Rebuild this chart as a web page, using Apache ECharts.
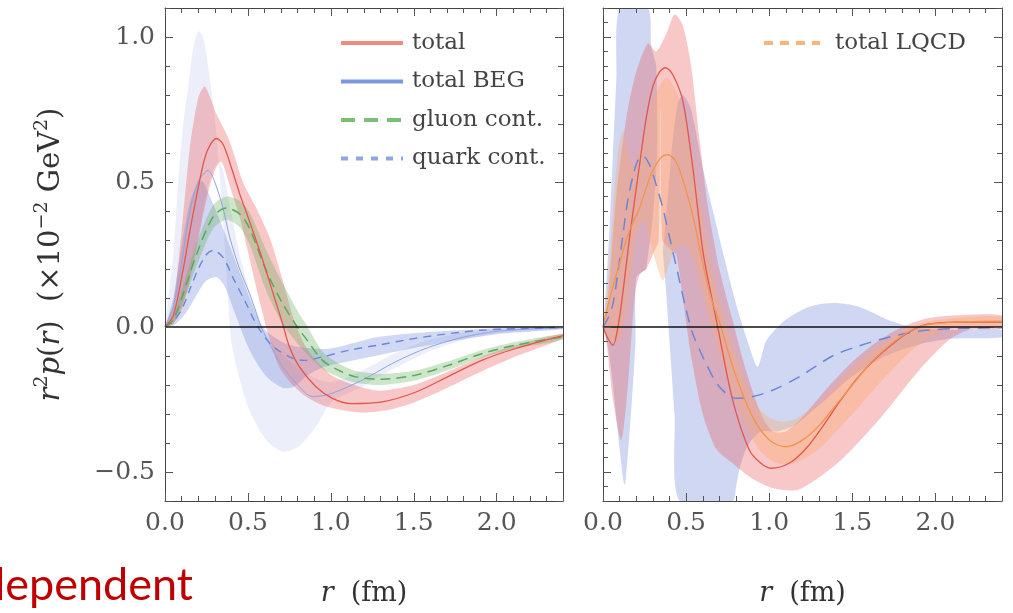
<!DOCTYPE html>
<html><head><meta charset="utf-8">
<script src="https://cdn.jsdelivr.net/npm/echarts@6/dist/echarts.min.js"></script>
<style>html,body{margin:0;padding:0;background:#fff}#c{width:1013px;height:613px}</style>
</head><body><div id="c"></div>
<script>
// ---------------- data (r in fm, value in 1e-2 GeV^2) ----------------
const xTicks = [0, 0.5, 1.0, 1.5, 2.0];
const yTicks = [-0.5, 0, 0.5, 1.0];

// left panel
const totalL = [[0,0],[0.05,0.04],[0.1,0.17],[0.15,0.33],[0.2,0.48],[0.25,0.6],[0.31,0.65],[0.35,0.63],[0.4,0.55],[0.45,0.46],[0.5,0.38],[0.57,0.264],[0.65,0.12],[0.715,0.0],[0.75,-0.068],[0.81,-0.137],[0.91,-0.206],[1.01,-0.246],[1.12,-0.264],[1.31,-0.258],[1.51,-0.225],[1.71,-0.17],[1.91,-0.115],[2.11,-0.075],[2.4,-0.03]];
const totalUpL = [[0,0],[0.05,0.08],[0.1,0.33],[0.15,0.62],[0.2,0.79],[0.24,0.83],[0.31,0.735],[0.39,0.64],[0.47,0.5],[0.55,0.41],[0.63,0.31],[0.7,0.18],[0.78,0.02],[0.85,-0.07],[0.91,-0.115],[1.0,-0.165],[1.09,-0.19],[1.2,-0.21],[1.3,-0.22],[1.5,-0.2],[1.7,-0.155],[1.9,-0.105],[2.1,-0.065],[2.4,-0.022]];
const totalLoL = [[0,0],[0.05,0.01],[0.1,0.06],[0.15,0.16],[0.2,0.3],[0.25,0.44],[0.3,0.54],[0.34,0.57],[0.4,0.47],[0.45,0.38],[0.5,0.26],[0.57,0.09],[0.63,-0.04],[0.69,-0.14],[0.77,-0.2],[0.85,-0.24],[0.95,-0.27],[1.07,-0.287],[1.2,-0.295],[1.35,-0.285],[1.5,-0.26],[1.7,-0.21],[1.9,-0.155],[2.1,-0.105],[2.4,-0.04]];

const begL = [[0,0],[0.05,0.07],[0.1,0.22],[0.15,0.4],[0.2,0.5],[0.26,0.54],[0.3,0.5],[0.35,0.41],[0.39,0.31],[0.45,0.2],[0.51,0.115],[0.55,0.05],[0.58,0.0],[0.65,-0.08],[0.7,-0.13],[0.8,-0.2],[0.89,-0.24],[1.0,-0.23],[1.19,-0.183],[1.39,-0.12],[1.59,-0.07],[1.8,-0.035],[2.0,-0.015],[2.2,-0.007],[2.4,-0.003]];
const begAL = [[0,0],[0.05,0.25],[0.08,0.5],[0.11,0.7],[0.14,0.83],[0.17,0.96],[0.2,1.02],[0.23,1.0],[0.26,0.9],[0.3,0.72],[0.34,0.45],[0.37,0.2],[0.4,-0.05],[0.45,-0.18],[0.51,-0.29],[0.61,-0.39],[0.71,-0.43],[0.81,-0.41],[0.91,-0.344],[1.0,-0.26],[1.19,-0.205],[1.39,-0.14],[1.59,-0.085],[1.8,-0.045],[2.0,-0.022],[2.4,-0.005]];
const begBL = [[0,0],[0.05,0.02],[0.1,0.08],[0.15,0.18],[0.2,0.32],[0.25,0.46],[0.29,0.54],[0.32,0.567],[0.35,0.54],[0.39,0.42],[0.45,0.25],[0.5,0.14],[0.55,0.05],[0.6,-0.02],[0.7,-0.09],[0.8,-0.14],[0.9,-0.175],[1.0,-0.19],[1.19,-0.15],[1.39,-0.09],[1.59,-0.045],[1.8,-0.02],[2.0,-0.008],[2.4,-0.001]];

const gluonL = [[0,0],[0.05,0.025],[0.11,0.115],[0.19,0.25],[0.29,0.38],[0.37,0.41],[0.45,0.39],[0.51,0.34],[0.61,0.195],[0.71,0.08],[0.81,-0.01],[0.85,-0.04],[0.95,-0.115],[1.05,-0.15],[1.15,-0.172],[1.31,-0.18],[1.51,-0.166],[1.71,-0.132],[1.91,-0.092],[2.11,-0.063],[2.4,-0.034]];
const gluonUpL = [[0,0],[0.05,0.04],[0.11,0.145],[0.19,0.29],[0.29,0.42],[0.37,0.45],[0.45,0.435],[0.51,0.395],[0.61,0.265],[0.71,0.15],[0.81,0.045],[0.85,0.01],[0.95,-0.085],[1.05,-0.127],[1.15,-0.152],[1.31,-0.162],[1.51,-0.15],[1.71,-0.118],[1.91,-0.08],[2.11,-0.052],[2.4,-0.025]];
const gluonLoL = [[0,0],[0.05,0.012],[0.11,0.085],[0.19,0.21],[0.29,0.34],[0.37,0.37],[0.45,0.345],[0.51,0.285],[0.61,0.125],[0.71,0.01],[0.81,-0.065],[0.85,-0.09],[0.95,-0.145],[1.05,-0.173],[1.15,-0.192],[1.31,-0.2],[1.51,-0.184],[1.71,-0.148],[1.91,-0.105],[2.11,-0.075],[2.4,-0.043]];

const quarkL = [[0,0],[0.05,0.02],[0.1,0.06],[0.15,0.13],[0.2,0.2],[0.25,0.25],[0.29,0.264],[0.35,0.24],[0.41,0.17],[0.49,0.08],[0.56,0.0],[0.65,-0.066],[0.77,-0.108],[0.84,-0.115],[0.95,-0.103],[1.11,-0.08],[1.29,-0.062],[1.5,-0.04],[1.71,-0.023],[1.91,-0.011],[2.11,-0.006],[2.4,-0.002]];
const quarkUpL = [[0,0],[0.05,0.1],[0.1,0.28],[0.15,0.43],[0.2,0.5],[0.23,0.5],[0.3,0.41],[0.37,0.31],[0.47,0.16],[0.59,0.0],[0.7,-0.05],[0.8,-0.068],[0.99,-0.075],[1.29,-0.034],[1.59,-0.017],[2.0,-0.004],[2.4,0.0]];
const quarkLoL = [[0,0],[0.05,0.005],[0.1,0.03],[0.15,0.07],[0.2,0.12],[0.25,0.16],[0.31,0.172],[0.36,0.14],[0.42,0.05],[0.51,-0.08],[0.61,-0.17],[0.71,-0.21],[0.78,-0.205],[0.85,-0.17],[0.95,-0.14],[1.05,-0.125],[1.29,-0.097],[1.59,-0.063],[2.0,-0.025],[2.4,-0.008]];

// right panel
const totalR = [[0,0],[0.03,-0.04],[0.06,-0.063],[0.09,0.0],[0.12,0.12],[0.16,0.31],[0.22,0.56],[0.26,0.72],[0.3,0.83],[0.34,0.88],[0.376,0.894],[0.42,0.87],[0.48,0.78],[0.54,0.55],[0.6,0.264],[0.64,0.14],[0.69,0.0],[0.78,-0.252],[0.88,-0.424],[0.95,-0.47],[1.01,-0.487],[1.12,-0.47],[1.22,-0.42],[1.32,-0.344],[1.42,-0.26],[1.52,-0.183],[1.62,-0.12],[1.72,-0.069],[1.82,-0.025],[1.92,0.005],[2.02,0.014],[2.12,0.017],[2.4,0.017]];
const totalUpR = [[0,0],[0.03,0.1],[0.08,0.45],[0.14,0.72],[0.2,0.88],[0.27,0.977],[0.32,0.95],[0.38,1.01],[0.43,1.078],[0.48,1.04],[0.53,0.9],[0.58,0.65],[0.63,0.42],[0.7,0.2],[0.79,0.0],[0.86,-0.15],[0.95,-0.3],[1.02,-0.36],[1.1,-0.36],[1.2,-0.31],[1.35,-0.21],[1.5,-0.12],[1.65,-0.05],[1.8,0.0],[1.95,0.03],[2.1,0.04],[2.4,0.04]];
const totalLoR = [[0,0],[0.02,-0.05],[0.06,-0.25],[0.11,-0.39],[0.15,-0.2],[0.19,0.1],[0.22,0.18],[0.26,0.2],[0.3,0.25],[0.335,0.3],[0.346,0.76],[0.357,0.3],[0.4,0.27],[0.44,0.25],[0.48,0.1],[0.53,-0.1],[0.6,-0.3],[0.68,-0.42],[0.78,-0.47],[0.88,-0.516],[1.02,-0.555],[1.18,-0.56],[1.42,-0.465],[1.66,-0.32],[1.9,-0.15],[2.08,-0.045],[2.2,-0.01],[2.4,-0.005]];

const lqcdR = [[0,0],[0.02,0.05],[0.06,0.14],[0.1,0.22],[0.14,0.3],[0.18,0.36],[0.22,0.41],[0.26,0.48],[0.3,0.54],[0.35,0.585],[0.39,0.594],[0.44,0.57],[0.5,0.47],[0.55,0.36],[0.6,0.22],[0.65,0.1],[0.71,0.0],[0.75,-0.08],[0.8,-0.17],[0.9,-0.31],[1.0,-0.39],[1.1,-0.413],[1.2,-0.39],[1.3,-0.34],[1.4,-0.27],[1.5,-0.2],[1.6,-0.13],[1.7,-0.075],[1.8,-0.03],[1.9,0.0],[2.0,0.012],[2.2,0.018],[2.4,0.02]];
const lqcdUpR = [[0,0],[0.03,0.15],[0.06,0.4],[0.09,0.6],[0.12,0.677],[0.15,0.6],[0.18,0.55],[0.23,0.62],[0.3,0.78],[0.38,0.86],[0.45,0.8],[0.52,0.65],[0.58,0.45],[0.65,0.22],[0.72,0.05],[0.8,-0.1],[0.9,-0.24],[0.95,-0.29],[1.05,-0.325],[1.15,-0.32],[1.3,-0.26],[1.45,-0.17],[1.6,-0.09],[1.75,-0.03],[1.9,0.01],[2.1,0.03],[2.4,0.035]];
const lqcdLoR = [[0,0],[0.05,-0.05],[0.1,-0.05],[0.15,0.1],[0.2,0.3],[0.24,0.37],[0.28,0.3],[0.33,0.2],[0.36,0.16],[0.4,0.22],[0.44,0.275],[0.5,0.28],[0.56,0.2],[0.65,0.0],[0.75,-0.18],[0.85,-0.33],[0.95,-0.43],[1.05,-0.47],[1.15,-0.47],[1.3,-0.42],[1.5,-0.3],[1.7,-0.17],[1.9,-0.06],[2.1,-0.005],[2.4,0.0]];

const quarkR = [[0,0],[0.03,0.03],[0.06,0.08],[0.09,0.19],[0.12,0.32],[0.15,0.44],[0.18,0.52],[0.21,0.575],[0.24,0.59],[0.28,0.56],[0.32,0.49],[0.36,0.41],[0.4,0.31],[0.46,0.16],[0.5,0.06],[0.54,-0.023],[0.62,-0.126],[0.7,-0.206],[0.8,-0.246],[0.9,-0.24],[1.02,-0.218],[1.18,-0.172],[1.38,-0.1],[1.52,-0.069],[1.72,-0.035],[1.92,-0.013],[2.15,-0.005],[2.4,-0.002]];
const quarkStripUpR = [[0,0],[0.02,0.15],[0.04,0.35],[0.06,0.6],[0.08,0.85],[0.1,1.1],[0.27,1.1],[0.29,0.97],[0.32,0.9],[0.325,0.6],[0.3,0.38],[0.26,0.2]];
const quarkStripLoR = [[0,0],[0.03,-0.07],[0.06,-0.2],[0.1,-0.42],[0.13,-0.545],[0.155,-0.4],[0.18,-0.2],[0.195,-0.05],[0.2,0.17],[0.26,0.2]];
const quarkHumpUpR = [[0.36,0.26],[0.39,0.45],[0.42,0.65],[0.45,0.77],[0.48,0.8],[0.53,0.75],[0.6,0.55],[0.67,0.38],[0.72,0.26],[0.8,0.08],[0.87,-0.05],[0.93,-0.137],[0.98,-0.05],[1.05,0.0],[1.12,0.034],[1.22,0.065],[1.32,0.08],[1.42,0.082],[1.52,0.073],[1.62,0.05],[1.72,0.023],[1.82,0.005],[1.92,-0.005],[2.1,-0.01],[2.4,-0.01]];
const quarkHumpLoR = [[0.36,0.26],[0.38,0.12],[0.4,-0.05],[0.43,-0.3],[0.46,-0.6],[0.78,-0.6],[0.8,-0.55],[0.83,-0.47],[0.88,-0.4],[0.95,-0.36],[1.05,-0.36],[1.15,-0.34],[1.3,-0.27],[1.5,-0.17],[1.7,-0.1],[1.9,-0.06],[2.1,-0.04],[2.4,-0.035]];

// ---------------- chart ----------------
const FONT = 'DejaVu Serif';
const TXT = '#555';
const chart = echarts.init(document.getElementById('c'), null, {renderer: 'canvas'});

function outline(up, lo) { return up.concat(lo.slice().reverse()); }

function band(name, up, lo, color, ax) {
  const pts = outline(up, lo);
  return {
    type: 'custom', name: name, xAxisIndex: ax, yAxisIndex: ax, z: 1, silent: true, clip: true,
    data: pts,
    renderItem: function (params, api) {
      if (params.dataIndex !== 0) return;
      return {
        type: 'polygon',
        shape: {points: pts.map(function (p) { return api.coord(p); }), smooth: 0.25},
        style: {fill: color, stroke: null}
      };
    }
  };
}

function line(name, data, color, width, type, ax, extra) {
  return Object.assign({
    type: 'line', name: name, data: data, xAxisIndex: ax, yAxisIndex: ax,
    symbol: 'none', showSymbol: false, smooth: 0.3, z: 3, silent: true,
    lineStyle: {color: color, width: width, type: type},
    itemStyle: {color: color}
  }, extra || {});
}

const zeroMark = {
  silent: true, symbol: ['none', 'none'], label: {show: false},
  lineStyle: {color: '#111', width: 1.6, type: 'solid'},
  data: [{yAxis: 0}]
};

function xAxes(g) {
  const base = {gridIndex: g, type: 'value', min: 0, max: 2.4, z: 10, splitLine: {show: false}};
  return [
    Object.assign({}, base, {
      position: 'bottom',
      axisLine: {show: true, onZero: false, lineStyle: {color: '#444', width: 1}},
      axisTick: {inside: true, length: 8, customValues: xTicks, lineStyle: {color: '#555'}},
      axisLabel: {customValues: xTicks, formatter: function (v) { return v.toFixed(1); },
        margin: 10, fontFamily: FONT, fontSize: 25, color: TXT},
      name: '{i|r}  (fm)', nameLocation: 'middle', nameGap: 79,
      nameTextStyle: {fontFamily: FONT, fontSize: 27, color: '#333',
        rich: {i: {fontFamily: FONT, fontStyle: 'italic', fontSize: 27, color: '#333'}}}
    }),
    Object.assign({}, base, {
      position: 'bottom', interval: 0.1,
      axisLine: {show: false, onZero: false},
      axisTick: {inside: true, length: 5, lineStyle: {color: '#555'}},
      axisLabel: {show: false}
    }),
    Object.assign({}, base, {
      position: 'top',
      axisLine: {show: true, onZero: false, lineStyle: {color: '#444', width: 1}},
      axisTick: {inside: true, length: 8, customValues: xTicks, lineStyle: {color: '#555'}},
      axisLabel: {show: false}
    }),
    Object.assign({}, base, {
      position: 'top', interval: 0.1,
      axisLine: {show: false, onZero: false},
      axisTick: {inside: true, length: 5, lineStyle: {color: '#555'}},
      axisLabel: {show: false}
    })
  ];
}

function yAxes(g, labels, minorLeft) {
  const base = {gridIndex: g, type: 'value', min: -0.6, max: 1.1, z: 10, splitLine: {show: false}};
  const major = Object.assign({}, base, {
    position: 'left',
    axisLine: {show: true, onZero: false, lineStyle: {color: '#444', width: 1}},
    axisTick: {inside: true, length: 8, customValues: yTicks, lineStyle: {color: '#555'}},
    axisLabel: labels ? {customValues: yTicks,
      formatter: function (v) { return v < 0 ? '\u2212' + Math.abs(v).toFixed(1) : v.toFixed(1); },
      margin: 10, fontFamily: FONT, fontSize: 25, color: TXT} : {show: false}
  });
  if (labels) {
    major.name = '{i|r}{s|2}{i|p}({i|r})  (\u00d710{s|\u22122} GeV{s|2})';
    major.nameLocation = 'middle';
    major.nameGap = 96;
    major.nameTextStyle = {fontFamily: FONT, fontSize: 29, color: '#333', lineHeight: 36,
      rich: {
        i: {fontFamily: FONT, fontStyle: 'italic', fontSize: 29, color: '#333', lineHeight: 36},
        s: {fontFamily: FONT, fontSize: 19, color: '#333', verticalAlign: 'top', lineHeight: 22}
      }};
  }
  return [
    major,
    Object.assign({}, base, {
      position: 'left', interval: minorLeft,
      axisLine: {show: false, onZero: false},
      axisTick: {inside: true, length: 5, lineStyle: {color: '#555'}},
      axisLabel: {show: false}
    }),
    Object.assign({}, base, {
      position: 'right',
      axisLine: {show: true, onZero: false, lineStyle: {color: '#444', width: 1}},
      axisTick: {inside: true, length: 8, customValues: yTicks, lineStyle: {color: '#555'}},
      axisLabel: {show: false}
    }),
    Object.assign({}, base, {
      position: 'right', interval: 0.1,
      axisLine: {show: false, onZero: false},
      axisTick: {inside: true, length: 5, lineStyle: {color: '#555'}},
      axisLabel: {show: false}
    })
  ];
}

const L = 0, R = 4; // axis index of each panel's main axes

const option = {
  animation: false,
  backgroundColor: '#fff',
  grid: [
    {left: 165, top: 8, width: 398, height: 493, show: false},
    {left: 603, top: 8, width: 399, height: 493, show: false}
  ],
  xAxis: xAxes(0).concat(xAxes(1)),
  yAxis: yAxes(0, true, 0.1).concat(yAxes(1, false, 0.05)),
  legend: [
    {
      orient: 'vertical', left: 339, top: 28, padding: 0, itemWidth: 62, itemHeight: 14, itemGap: 8.5,
      selectedMode: false, itemStyle: {opacity: 0},
      textStyle: {fontFamily: FONT, fontSize: 23, color: '#444', lineHeight: 30, padding: [0, 0, 0, 4]},
      data: [
        {name: 'total', lineStyle: {color: '#f28a82', width: 4, type: 'solid'}},
        {name: 'total BEG', lineStyle: {color: '#7d97e0', width: 4, type: 'solid'}},
        {name: 'gluon cont.', lineStyle: {color: '#7cbf74', width: 4, type: [14, 9]}},
        {name: 'quark cont.', lineStyle: {color: '#8ea6e6', width: 4, type: [7, 8]}}
      ]
    },
    {
      orient: 'vertical', left: 762, top: 28, padding: 0, itemWidth: 56, itemHeight: 14,
      selectedMode: false, itemStyle: {opacity: 0},
      textStyle: {fontFamily: FONT, fontSize: 23, color: '#444', lineHeight: 30, padding: [0, 0, 0, 10]},
      data: [
        {name: 'total LQCD', lineStyle: {color: '#f8b37e', width: 4, type: [9, 7]}}
      ]
    }
  ],
  graphic: [
    {type: 'text', x: -20, y: 563, z: 20, silent: true,
     style: {text: 'dependent', fill: '#c00000', font: '45px Lato'}}
  ],
  series: [
    // left panel bands
    band('BEG band', begAL, begBL, 'rgba(120,145,220,0.14)', L),
    band('quark band', quarkUpL, quarkLoL, 'rgba(110,135,220,0.32)', L),
    band('total band', totalUpL, totalLoL, 'rgba(235,90,90,0.34)', L),
    band('gluon band', gluonUpL, gluonLoL, 'rgba(90,170,80,0.3)', L),
    // left panel lines
    line('total BEG', begL, '#8ea4e2', 1, 'solid', L),
    line('quark cont.', quarkL, '#6a86d8', 1.4, [8, 6], L),
    line('gluon cont.', gluonL, '#5ca85a', 1.5, [10, 6], L),
    line('total', totalL, '#e0574f', 1.3, 'solid', L, {markLine: zeroMark}),
    // right panel bands
    band('quark band R1', quarkStripUpR, quarkStripLoR, 'rgba(110,135,220,0.33)', R),
    band('quark band R2', quarkHumpUpR, quarkHumpLoR, 'rgba(110,135,220,0.33)', R),
    band('total band R', totalUpR, totalLoR, 'rgba(235,90,90,0.34)', R),
    band('LQCD band', lqcdUpR, lqcdLoR, 'rgba(250,170,110,0.36)', R),
    // right panel lines
    line('quark cont.', quarkR, '#6a86d8', 1.5, [12, 8], R),
    line('total', totalR, '#e0574f', 1.3, 'solid', R),
    line('total LQCD', lqcdR, '#f0954a', 1.3, 'solid', R, {markLine: zeroMark})
  ]
};
chart.setOption(option);
</script>
</body></html>
